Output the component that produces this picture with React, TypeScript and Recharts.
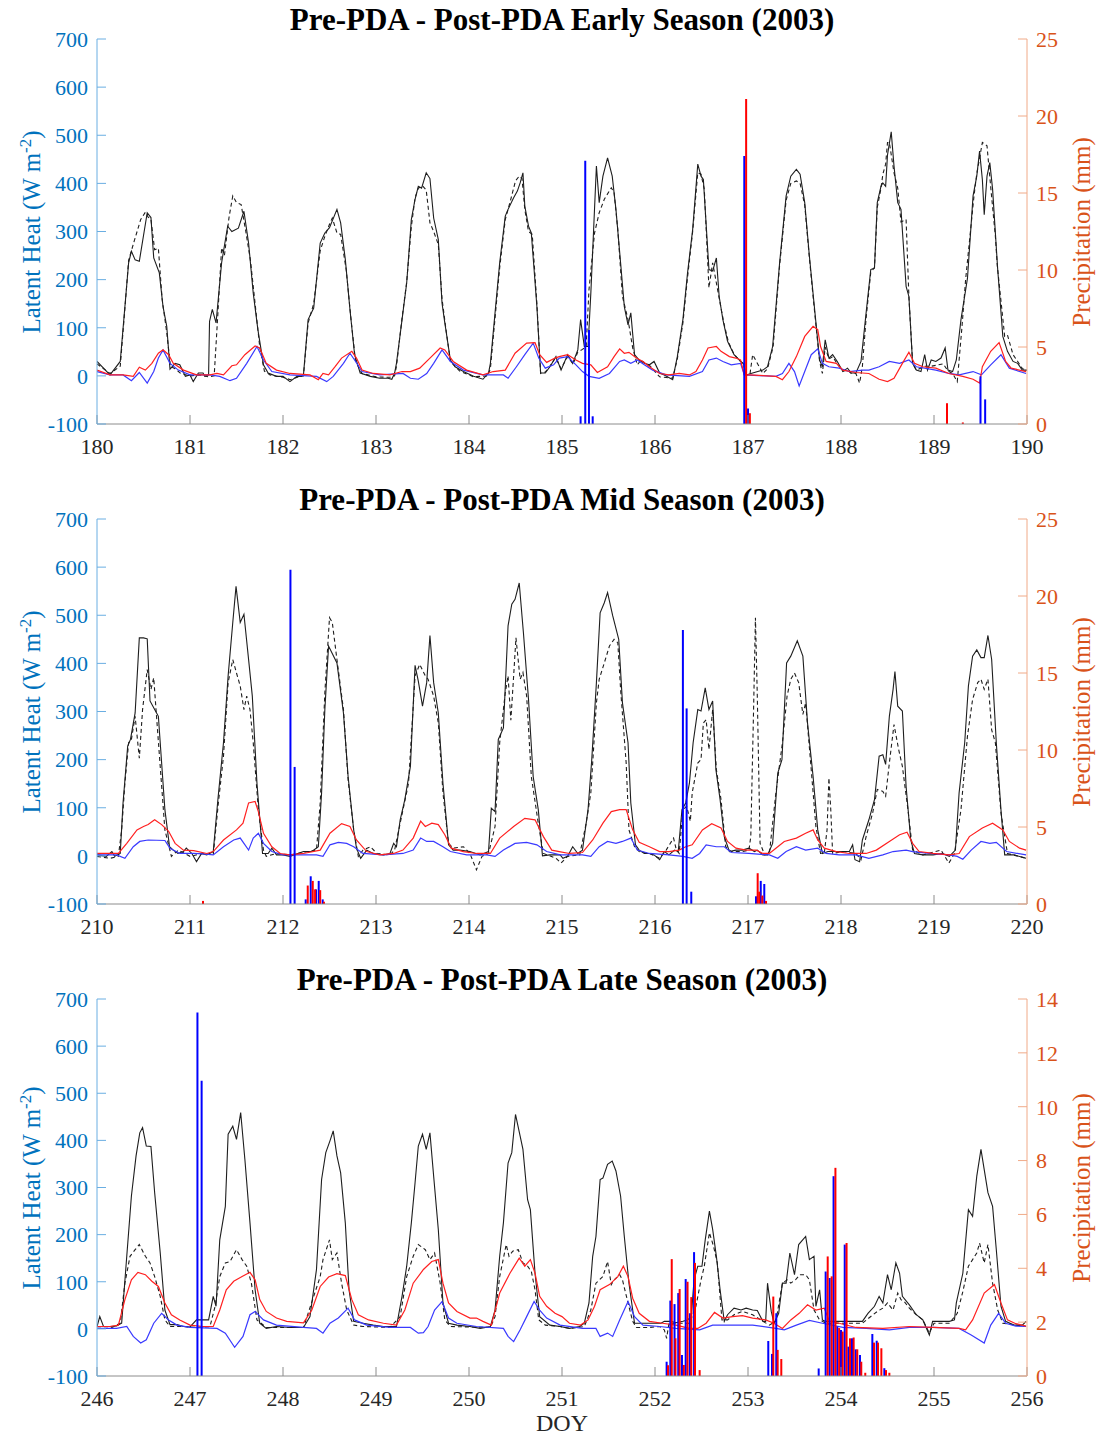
import React from 'react';
import { ComposedChart, Line, XAxis, YAxis, ReferenceLine } from 'recharts';

type Pt = [number, number];

const FONT = '"Liberation Serif", "Times New Roman", serif';

// axis ticks
const lhTicks = [-100, 0, 100, 200, 300, 400, 500, 600, 700];
const earlyDays = [180, 181, 182, 183, 184, 185, 186, 187, 188, 189, 190];
const midDays = [210, 211, 212, 213, 214, 215, 216, 217, 218, 219, 220];
const lateDays = [246, 247, 248, 249, 250, 251, 252, 253, 254, 255, 256];
const rainTicks25 = [0, 5, 10, 15, 20, 25];
const rainTicks14 = [0, 2, 4, 6, 8, 10, 12, 14];

// ---------- Early season (DOY 180-190) ----------
const earlySolid: Pt[] = [
  [180.0, 30], [180.14, 2], [180.25, 30], [180.34, 235], [180.37, 259], [180.41, 241], [180.455, 238], [180.54, 339], [180.58, 329], [180.61, 245], [180.67, 214], [180.71, 144], [180.75, 103], [180.785, 14], [180.84, 26], [180.89, 23], [180.95, -1], [181.0, 2], [181.035, -12], [181.09, 6], [181.14, 6], [181.16, -1],
  [181.2, 2], [181.21, 113], [181.24, 138], [181.28, 110], [181.34, 235], [181.405, 311], [181.45, 300], [181.52, 307], [181.58, 342], [181.63, 276], [181.68, 172], [181.73, 96], [181.79, 23], [181.84, 6], [181.93, -1], [182.0, -1], [182.075, -12], [182.15, -1], [182.2, -1],
  [182.22, 2], [182.27, 117], [182.33, 141], [182.4, 276], [182.45, 297], [182.5, 308], [182.58, 346], [182.62, 318], [182.67, 242], [182.72, 138], [182.77, 44], [182.83, 6], [182.94, -1], [183.04, -5], [183.13, -5], [183.17, -7], [183.2, 6],
  [183.22, 26], [183.28, 117], [183.33, 193], [183.38, 325], [183.42, 367], [183.455, 394], [183.49, 390], [183.54, 422], [183.58, 410], [183.62, 328], [183.67, 283], [183.71, 151], [183.74, 110], [183.8, 33], [183.85, 19], [183.94, 9], [184.05, -1], [184.15, -7], [184.21, 6],
  [184.23, 26], [184.28, 131], [184.33, 235], [184.39, 332], [184.42, 346], [184.48, 370], [184.52, 384], [184.55, 401], [184.58, 422], [184.6, 353], [184.64, 311], [184.67, 297], [184.73, 144], [184.77, 6], [184.82, 6], [184.87, 19], [184.935, 40], [184.99, 12],
  [185.06, 44], [185.115, 26], [185.17, 54], [185.2, 117], [185.24, 61], [185.28, 61], [185.31, 172], [185.37, 436], [185.4, 360], [185.44, 415], [185.49, 453], [185.54, 415], [185.58, 346], [185.63, 235], [185.67, 144], [185.71, 106], [185.74, 131], [185.78, 44], [185.83, 33], [185.885, 26], [185.94, 23], [185.99, 30],
  [186.05, 6], [186.1, 2], [186.19, -8], [186.24, 40], [186.3, 117], [186.35, 214], [186.405, 304], [186.46, 440], [186.495, 415], [186.52, 408], [186.58, 221], [186.62, 218], [186.66, 245], [186.69, 165], [186.73, 117], [186.78, 72], [186.85, 44], [186.92, 30], [186.95, 26], [186.98, 2],
  [187.05, 6], [187.16, 12], [187.21, 19], [187.265, 61], [187.34, 235], [187.41, 374], [187.46, 415], [187.52, 429], [187.56, 419], [187.61, 360], [187.66, 249], [187.71, 151], [187.77, 33], [187.8, 19], [187.83, 75], [187.87, 37], [187.91, 44], [187.96, 30],
  [188.02, 9], [188.07, 16], [188.11, 6], [188.16, 6], [188.215, 30], [188.27, 131], [188.32, 221], [188.36, 224], [188.39, 360], [188.43, 394], [188.45, 401], [188.48, 394], [188.5, 459], [188.54, 507], [188.57, 436], [188.61, 360], [188.645, 346], [188.7, 186], [188.73, 165], [188.77, 26], [188.81, 12], [188.86, 9], [188.9, 44], [188.93, 12], [188.97, 33],
  [189.02, 30], [189.075, 37], [189.12, 58], [189.15, 12], [189.2, 9], [189.24, 33], [189.29, 117], [189.36, 203], [189.42, 374], [189.46, 415], [189.49, 467], [189.52, 408], [189.54, 335], [189.57, 415], [189.6, 443], [189.63, 388], [189.685, 221], [189.74, 82], [189.79, 51], [189.85, 30], [189.9, 26], [189.95, 12], [190.0, 12],
];
const earlyDashed: Pt[] = [
  [180.0, 25], [180.14, 5], [180.25, 20], [180.3, 140], [180.34, 240], [180.4, 280], [180.47, 325], [180.52, 340], [180.55, 330], [180.58, 325], [180.62, 262], [180.66, 265], [180.7, 160], [180.75, 90], [180.79, 20], [180.84, 15], [180.9, 5], [181.0, 0], [181.1, 2], [181.16, 0],
  [181.2, -2], [181.26, 0], [181.3, 130], [181.34, 266], [181.37, 250], [181.42, 330], [181.46, 374], [181.5, 360], [181.55, 356], [181.6, 300], [181.65, 240], [181.7, 150], [181.75, 60], [181.8, 10], [181.86, 2], [182.0, -3], [182.08, -8], [182.2, 0],
  [182.22, 0], [182.27, 110], [182.33, 150], [182.4, 260], [182.45, 290], [182.5, 315], [182.53, 328], [182.58, 297], [182.62, 294], [182.68, 220], [182.73, 120], [182.78, 30], [182.85, 5], [183.0, -2], [183.15, -3], [183.2, 0],
  [183.22, 20], [183.28, 120], [183.33, 195], [183.38, 310], [183.42, 370], [183.455, 390], [183.5, 395], [183.54, 386], [183.58, 318], [183.62, 300], [183.67, 273], [183.71, 160], [183.75, 100], [183.8, 30], [183.9, 10], [184.05, -2], [184.2, 0],
  [184.23, 15], [184.28, 120], [184.33, 225], [184.39, 325], [184.44, 360], [184.5, 405], [184.54, 415], [184.57, 410], [184.6, 346], [184.64, 300], [184.68, 294], [184.73, 150], [184.77, 5], [184.82, 8], [184.87, 20],
  [184.93, 38], [184.99, 15], [185.06, 40], [185.12, 25], [185.17, 50], [185.22, 55], [185.26, 61], [185.29, 179], [185.35, 297], [185.4, 339], [185.455, 367], [185.53, 391], [185.56, 381], [185.6, 304], [185.65, 165], [185.71, 117], [185.76, 58], [185.81, 23], [185.85, 33], [185.9, 25], [185.95, 20],
  [186.05, -2], [186.1, -3], [186.19, -5], [186.24, 35], [186.3, 110], [186.35, 205], [186.405, 300], [186.46, 422], [186.495, 419], [186.53, 388], [186.58, 183], [186.62, 235], [186.66, 193], [186.7, 151], [186.74, 110], [186.79, 70], [186.85, 45], [186.92, 30], [186.95, 25], [186.98, 2],
  [187.02, 2], [187.05, 44], [187.16, 5], [187.21, 15], [187.27, 60], [187.34, 230], [187.41, 365], [187.46, 400], [187.52, 405], [187.56, 400], [187.61, 355], [187.66, 245], [187.71, 145], [187.77, 30], [187.8, 5], [187.83, 60], [187.87, 35], [187.91, 40], [187.96, 25],
  [188.02, 10], [188.07, 12], [188.11, 5], [188.16, 5], [188.2, -15], [188.23, 20], [188.27, 120], [188.32, 215], [188.36, 225], [188.39, 350], [188.43, 390], [188.45, 419], [188.48, 440], [188.5, 485], [188.52, 485], [188.57, 422], [188.61, 390], [188.645, 320], [188.7, 325], [188.73, 165], [188.77, 26], [188.81, 12], [188.9, 20], [188.97, 20],
  [189.1, 25], [189.15, 10], [189.2, 5], [189.25, -12], [189.3, 100], [189.34, 200], [189.43, 374], [189.46, 420], [189.52, 485], [189.57, 478], [189.61, 392], [189.66, 290], [189.68, 230], [189.76, 82], [189.79, 85], [189.85, 44], [189.9, 30], [189.95, 15], [190.0, 12],
];
const earlyRed: Pt[] = [
  [180.0, 12], [180.14, 2], [180.28, 2], [180.39, -1], [180.455, 18], [180.52, 12], [180.59, 26], [180.66, 47], [180.71, 54], [180.77, 44], [180.82, 26], [180.93, 12],
  [181.07, 2], [181.215, 2], [181.29, 5], [181.36, 2], [181.45, 21], [181.5, 23], [181.59, 44], [181.7, 62], [181.75, 58], [181.82, 26], [181.93, 12],
  [182.075, 5], [182.29, 2], [182.38, -8], [182.43, 5], [182.49, 2], [182.56, 19], [182.63, 37], [182.74, 51], [182.79, 37], [182.85, 12], [182.97, 5],
  [183.15, 2], [183.28, 9], [183.37, 9], [183.47, 16], [183.58, 37], [183.69, 58], [183.74, 54], [183.83, 30], [183.975, 12],
  [184.15, 2], [184.26, 9], [184.39, 12], [184.495, 47], [184.62, 68], [184.71, 69], [184.76, 44], [184.835, 28], [184.925, 37], [184.97, 40],
  [185.06, 44], [185.15, 33], [185.22, 26], [185.31, 23], [185.38, 7], [185.49, 19], [185.56, 40], [185.62, 56], [185.67, 47], [185.72, 49], [185.8, 37], [185.87, 30], [185.94, 19],
  [186.05, 5], [186.15, 2], [186.26, 5], [186.37, 2], [186.44, 9], [186.51, 33], [186.57, 58], [186.66, 61], [186.71, 51], [186.8, 40], [186.87, 37], [186.92, 33], [186.96, 2],
  [187.01, 2], [187.3, -1], [187.37, -8], [187.44, 9], [187.52, 40], [187.61, 82], [187.7, 103], [187.75, 96], [187.78, 61], [187.84, 30], [187.95, 26],
  [188.02, 12], [188.16, 7], [188.3, 5], [188.41, -7], [188.5, -12], [188.57, -5], [188.66, 26], [188.73, 49], [188.79, 26], [188.88, 19],
  [189.02, 16], [189.16, 5], [189.31, -1], [189.42, -7], [189.49, -15], [189.52, 19], [189.61, 51], [189.7, 69], [189.77, 30], [189.83, 16], [189.99, 9],
];
const earlyBlue: Pt[] = [
  [180.0, 9], [180.14, 2], [180.28, 2], [180.37, -10], [180.455, 7], [180.54, -15], [180.61, 9], [180.66, 37], [180.71, 54], [180.785, 26], [180.875, 12],
  [181.0, 2], [181.215, 2], [181.32, -1], [181.43, -10], [181.5, -5], [181.61, 26], [181.72, 61], [181.79, 33], [181.88, 9],
  [182.075, 2], [182.36, -1], [182.47, -12], [182.54, -1], [182.65, 26], [182.72, 47], [182.77, 33], [182.85, 9],
  [183.04, 2], [183.29, 5], [183.37, -5], [183.455, -7], [183.545, 5], [183.62, 26], [183.71, 54], [183.8, 30], [183.94, 12],
  [184.15, 2], [184.37, 2], [184.42, -5], [184.51, 19], [184.6, 44], [184.69, 68], [184.75, 37], [184.82, 16], [184.91, 23], [184.97, 37],
  [185.06, 40], [185.15, 23], [185.22, 9], [185.29, -1], [185.4, -5], [185.51, 5], [185.62, 30], [185.67, 33], [185.74, 26], [185.81, 33], [185.885, 23], [185.975, 12],
  [186.12, 2], [186.37, -1], [186.51, 9], [186.58, 33], [186.66, 37], [186.73, 30], [186.82, 23], [186.92, 26], [186.96, 2],
  [187.3, -1], [187.37, 5], [187.44, 26], [187.5, 9], [187.55, -21], [187.61, 9], [187.68, 44], [187.75, 56], [187.8, 26], [187.87, 19], [187.98, 16],
  [188.09, 9], [188.23, 12], [188.3, 12], [188.41, 19], [188.52, 30], [188.63, 26], [188.73, 33], [188.81, 19],
  [189.02, 12], [189.16, 5], [189.27, 2], [189.42, 9], [189.51, 2], [189.61, 23], [189.72, 44], [189.81, 16], [189.99, 5],
];
const earlyRainBlue: Pt[] = [[185.2, 0.5], [185.25, 17.1], [185.29, 6.1], [185.33, 0.5], [186.96, 17.4], [187.0, 1.0], [189.5, 3.1], [189.55, 1.6]];
const earlyRainRed: Pt[] = [[186.98, 21.1], [187.02, 0.7], [189.14, 1.35], [189.31, 0.1]];

// ---------- Mid season (DOY 210-220) ----------
const midSolid: Pt[] = [
  [210.0, 2], [210.1, -1], [210.16, 9], [210.19, -1], [210.25, 5], [210.28, 110], [210.33, 228], [210.36, 242], [210.41, 297], [210.455, 453], [210.5, 453], [210.54, 451], [210.57, 322], [210.62, 304], [210.66, 290], [210.695, 193], [210.73, 96], [210.78, 19], [210.82, 12], [210.87, 5], [210.93, 9], [210.96, 16],
  [211.02, 5], [211.07, -12], [211.125, 5], [211.18, 2], [211.25, 9], [211.3, 117], [211.36, 235], [211.41, 374], [211.46, 485], [211.495, 560], [211.54, 485], [211.58, 502], [211.63, 408], [211.67, 332], [211.72, 151], [211.78, 5], [211.84, 5], [211.88, 16], [211.93, 2],
  [212.0, 2], [212.075, -1], [212.22, 9], [212.31, 9], [212.38, 19], [212.415, 131], [212.45, 304], [212.49, 436], [212.58, 401], [212.65, 297], [212.7, 165], [212.76, 54], [212.79, 16], [212.835, -5], [212.9, 12], [212.97, 5],
  [213.08, 2], [213.15, 5], [213.19, 26], [213.22, 19], [213.26, 75], [213.31, 117], [213.37, 186], [213.42, 396], [213.455, 363], [213.5, 311], [213.545, 360], [213.58, 458], [213.62, 360], [213.67, 297], [213.72, 151], [213.78, 23], [213.83, 12], [213.9, 12],
  [214.01, 9], [214.12, 2], [214.21, 9], [214.24, 99], [214.28, 92], [214.315, 242], [214.37, 266], [214.42, 478], [214.46, 523], [214.495, 533], [214.54, 567], [214.585, 464], [214.64, 325], [214.69, 165], [214.745, 96], [214.79, 0], [214.87, 2], [214.98, 2],
  [215.01, -5], [215.06, -1], [215.115, 19], [215.17, 5], [215.22, 12], [215.28, 96], [215.32, 200], [215.37, 360], [215.41, 505], [215.455, 526], [215.49, 547], [215.545, 499], [215.61, 450], [215.65, 318], [215.71, 235], [215.74, 110], [215.79, 23], [215.83, 12], [215.885, 5], [215.94, 5], [215.99, 2],
  [216.05, -8], [216.1, 9], [216.15, 2], [216.21, 12], [216.25, 9], [216.29, 96], [216.33, 110], [216.37, 151], [216.41, 235], [216.46, 304], [216.495, 301], [216.54, 349], [216.58, 304], [216.62, 322], [216.655, 179], [216.7, 117], [216.745, 40], [216.8, 9], [216.87, 12], [216.94, 12],
  [217.01, 16], [217.07, 9], [217.1, 12], [217.16, 2], [217.21, 2], [217.265, 26], [217.32, 172], [217.365, 200], [217.415, 401], [217.46, 415], [217.53, 447], [217.59, 415], [217.64, 276], [217.7, 165], [217.75, 54], [217.8, 5], [217.86, 9], [217.95, 9],
  [218.02, 9], [218.09, 9], [218.125, 23], [218.15, -8], [218.2, -12], [218.23, 33], [218.3, 75], [218.36, 117], [218.41, 207], [218.45, 210], [218.48, 190], [218.52, 290], [218.56, 346], [218.58, 383], [218.61, 311], [218.66, 301], [218.7, 144], [218.75, 33], [218.79, 5], [218.88, 2], [218.99, 2],
  [219.09, 5], [219.165, -1], [219.23, 12], [219.27, 131], [219.33, 235], [219.37, 353], [219.415, 415], [219.46, 428], [219.505, 412], [219.54, 412], [219.58, 458], [219.62, 408], [219.67, 235], [219.72, 96], [219.76, 2], [219.86, 2], [219.99, -5],
];
const midDashed: Pt[] = [
  [210.0, -1], [210.14, -5], [210.23, -1], [210.265, 54], [210.3, 151], [210.34, 235], [210.37, 242], [210.41, 290], [210.455, 203], [210.49, 304], [210.54, 387], [210.58, 346], [210.61, 370], [210.64, 290], [210.685, 172], [210.73, 54], [210.8, -1], [210.875, 12],
  [211.0, -1], [211.14, 5], [211.25, 2], [211.305, 110], [211.36, 207], [211.41, 360], [211.46, 408], [211.5, 380], [211.54, 353], [211.58, 304], [211.61, 332], [211.645, 304], [211.68, 235], [211.735, 96], [211.79, 12], [211.82, -1], [211.93, 5],
  [212.075, 2], [212.36, 12], [212.4, 110], [212.45, 339], [212.5, 495], [212.53, 485], [212.58, 408], [212.65, 304], [212.7, 158], [212.76, 54], [212.81, -1], [212.86, 12], [212.94, 19],
  [213.01, 5], [213.15, 2], [213.2, 12], [213.26, 68], [213.35, 151], [213.42, 374], [213.47, 398], [213.53, 374], [213.56, 367], [213.62, 332], [213.67, 276], [213.72, 131], [213.78, 26], [213.83, 16], [213.94, 19],
  [214.01, 5], [214.08, -29], [214.14, -1], [214.21, 5], [214.28, 61], [214.33, 235], [214.39, 339], [214.42, 374], [214.45, 282], [214.48, 374], [214.505, 453], [214.55, 367], [214.58, 381], [214.62, 332], [214.67, 165], [214.75, 61], [214.8, 5], [214.935, -5], [214.99, -15],
  [215.06, -1], [215.19, 2], [215.26, 68], [215.31, 131], [215.37, 318], [215.4, 367], [215.455, 401], [215.51, 436], [215.56, 450], [215.6, 443], [215.63, 346], [215.69, 193], [215.72, 54], [215.78, 19], [215.83, 9], [215.94, 5],
  [216.05, -5], [216.12, 12], [216.2, 37], [216.23, 12], [216.26, 5], [216.3, 96], [216.34, 103], [216.38, 72], [216.4, 131], [216.46, 193], [216.495, 200], [216.52, 276], [216.55, 283], [216.58, 221], [216.62, 304], [216.66, 179], [216.71, 117], [216.76, 19], [216.82, 9], [216.94, 9],
  [217.01, 12], [217.03, 40], [217.06, 304], [217.08, 495], [217.1, 332], [217.13, 26], [217.18, 2], [217.23, 5], [217.3, 131], [217.37, 235], [217.42, 332], [217.46, 367], [217.5, 380], [217.545, 360], [217.59, 294], [217.62, 318], [217.68, 179], [217.73, 61], [217.78, 5], [217.82, 5], [217.85, 54], [217.87, 162], [217.89, 96], [217.91, 5],
  [218.02, 9], [218.16, 5], [218.215, -8], [218.27, 40], [218.34, 89], [218.39, 138], [218.45, 134], [218.48, 124], [218.52, 193], [218.57, 273], [218.62, 221], [218.66, 186], [218.72, 96], [218.77, 12], [218.88, 2],
  [219.075, 12], [219.16, -15], [219.22, 5], [219.29, 96], [219.36, 249], [219.415, 325], [219.47, 360], [219.505, 367], [219.54, 346], [219.58, 367], [219.62, 262], [219.66, 235], [219.72, 89], [219.79, 5], [219.99, -5],
];
const midRed: Pt[] = [
  [210.0, 5], [210.23, 5], [210.32, 26], [210.43, 54], [210.5, 61], [210.55, 65], [210.62, 75], [210.695, 65], [210.77, 51], [210.84, 26], [210.93, 12],
  [211.04, 11], [211.18, 5], [211.25, 9], [211.36, 33], [211.5, 54], [211.57, 68], [211.63, 110], [211.7, 113], [211.735, 92], [211.79, 47], [211.88, 19], [211.97, 5],
  [212.075, 2], [212.22, 5], [212.4, 12], [212.505, 47], [212.63, 67], [212.72, 61], [212.79, 33], [212.9, 9],
  [213.04, 2], [213.19, 5], [213.29, 12], [213.4, 37], [213.48, 72], [213.53, 61], [213.6, 68], [213.67, 65], [213.74, 44], [213.81, 16], [213.94, 9],
  [214.08, 5], [214.23, 5], [214.33, 37], [214.48, 61], [214.6, 78], [214.71, 75], [214.8, 40], [214.89, 12], [214.97, 9],
  [215.08, 5], [215.22, 7], [215.33, 33], [215.44, 68], [215.53, 92], [215.62, 96], [215.69, 96], [215.76, 54], [215.83, 28], [215.94, 19],
  [216.05, 9], [216.15, 9], [216.26, 12], [216.33, 19], [216.4, 23], [216.51, 54], [216.61, 67], [216.71, 58], [216.78, 30], [216.87, 16], [216.98, 12],
  [217.09, 12], [217.16, 5], [217.23, 5], [217.3, 16], [217.39, 30], [217.52, 37], [217.62, 47], [217.7, 54], [217.75, 33], [217.82, 16], [217.95, 9],
  [218.09, 5], [218.27, 5], [218.38, 12], [218.52, 30], [218.63, 44], [218.71, 49], [218.77, 26], [218.84, 9], [218.99, 5],
  [219.165, 2], [219.27, 5], [219.38, 40], [219.52, 58], [219.63, 68], [219.74, 54], [219.81, 30], [219.92, 16], [219.99, 12],
];
const midBlue: Pt[] = [
  [210.0, 2], [210.21, 2], [210.3, -5], [210.39, 19], [210.46, 30], [210.55, 33], [210.73, 32], [210.785, 16], [210.89, 5],
  [211.04, 5], [211.14, 4], [211.25, 2], [211.36, 19], [211.47, 33], [211.54, 37], [211.63, 12], [211.68, 37], [211.735, 47], [211.79, 26], [211.88, 9],
  [212.0, 2], [212.36, 2], [212.43, -1], [212.505, 23], [212.595, 28], [212.685, 26], [212.76, 19], [212.86, 5],
  [213.08, 2], [213.29, 5], [213.4, 12], [213.48, 37], [213.545, 30], [213.62, 30], [213.72, 19], [213.8, 9], [213.975, 2],
  [214.19, 2], [214.28, -1], [214.37, 12], [214.495, 26], [214.62, 28], [214.73, 23], [214.835, 9], [214.98, 2],
  [215.22, 2], [215.31, -1], [215.4, 19], [215.49, 30], [215.58, 26], [215.65, 30], [215.74, 37], [215.81, 12], [215.94, 5],
  [216.15, 2], [216.3, -1], [216.4, -5], [216.48, 5], [216.55, 23], [216.66, 19], [216.745, 19], [216.82, 7],
  [217.01, 5], [217.23, 2], [217.32, -5], [217.41, 9], [217.52, 19], [217.62, 12], [217.75, 16], [217.84, 5], [217.98, 2],
  [218.16, 2], [218.3, -5], [218.45, 2], [218.56, 9], [218.7, 12], [218.77, 9], [218.95, 5],
  [219.165, 2], [219.25, -1], [219.31, -7], [219.4, 12], [219.505, 30], [219.6, 26], [219.67, 28], [219.78, 9], [219.99, 2],
];
const midRainBlue: Pt[] = [[212.08, 21.7], [212.125, 8.9], [212.244, 0.3], [212.298, 1.8], [212.355, 0.95], [212.384, 1.5], [212.427, 0.3], [216.3, 17.8], [216.34, 12.7], [216.39, 0.8], [217.086, 0.5], [217.137, 1.5], [217.175, 1.3]];
const midRainRed: Pt[] = [[211.14, 0.2], [212.266, 1.2], [212.32, 1.5], [212.345, 0.95], [212.4, 0.9], [212.44, 0.15], [217.104, 2.0], [217.121, 0.8], [217.154, 0.55], [217.194, 0.2]];

// ---------- Late season (DOY 246-256) ----------
const lateSolid: Pt[] = [
  [246.0, 5], [246.03, 26], [246.07, 5], [246.14, 5], [246.21, 6], [246.265, 12], [246.32, 154], [246.37, 282], [246.42, 367], [246.46, 416], [246.49, 427], [246.53, 388], [246.58, 387], [246.62, 289], [246.68, 161], [246.73, 40], [246.785, 9], [246.86, 9], [246.93, 5],
  [247.0, 4], [247.07, 19], [247.2, 19], [247.25, 69], [247.28, 48], [247.32, 189], [247.38, 260], [247.41, 413], [247.46, 430], [247.5, 402], [247.545, 459], [247.59, 360], [247.645, 225], [247.7, 83], [247.75, 12], [247.82, 1], [247.93, 5],
  [248.075, 3], [248.22, 3], [248.29, 26], [248.36, 126], [248.415, 317], [248.46, 374], [248.505, 399], [248.54, 420], [248.58, 367], [248.62, 331], [248.67, 225], [248.71, 83], [248.76, 16], [248.86, 12], [248.97, 8],
  [249.08, 5], [249.22, 5], [249.28, 69], [249.33, 133], [249.38, 225], [249.42, 310], [249.455, 388], [249.5, 413], [249.54, 381], [249.58, 416], [249.62, 324], [249.67, 211], [249.72, 55], [249.78, 12], [249.87, 8],
  [250.01, 5], [250.12, 1], [250.23, 5], [250.28, 40], [250.33, 154], [250.37, 225], [250.42, 352], [250.46, 374], [250.5, 455], [250.55, 409], [250.58, 381], [250.63, 274], [250.66, 253], [250.71, 118], [250.76, 26], [250.87, 8], [250.98, 5],
  [251.08, 1], [251.19, 5], [251.24, 12], [251.29, 55], [251.33, 154], [251.365, 196], [251.41, 317], [251.44, 320], [251.49, 349], [251.54, 356], [251.58, 335], [251.63, 282], [251.67, 196], [251.72, 97], [251.78, 12], [251.87, 12], [251.975, 12],
  [252.065, 12], [252.1, 16], [252.17, 16], [252.225, 13], [252.3, 16], [252.35, 19], [252.39, 26], [252.42, 104], [252.46, 133], [252.505, 133], [252.54, 189], [252.585, 250], [252.62, 211], [252.66, 154], [252.7, 83], [252.745, 16], [252.78, 30], [252.85, 44], [252.925, 40], [252.98, 44],
  [253.05, 40], [253.1, 39], [253.16, 16], [253.19, 16], [253.21, 97], [253.25, 37], [253.28, 12], [253.33, 33], [253.37, 97], [253.41, 97], [253.45, 161], [253.5, 115], [253.545, 179], [253.62, 196], [253.66, 147], [253.71, 154], [253.73, 48], [253.77, 83], [253.8, 19], [253.83, 16], [253.875, 16], [253.98, 16],
  [254.09, 16], [254.23, 16], [254.29, 33], [254.36, 48], [254.41, 69], [254.45, 55], [254.5, 115], [254.54, 83], [254.59, 140], [254.63, 118], [254.66, 69], [254.735, 51], [254.81, 30], [254.88, 19], [254.95, -13], [254.985, 16],
  [255.075, 16], [255.165, 16], [255.22, 19], [255.24, 55], [255.31, 118], [255.37, 253], [255.415, 239], [255.46, 324], [255.505, 381], [255.54, 338], [255.58, 289], [255.63, 260], [255.67, 168], [255.72, 48], [255.77, 16], [255.86, 8], [255.95, 8], [255.99, 16],
];
const lateDashed: Pt[] = [
  [246.0, 1], [246.14, 1], [246.25, 12], [246.3, 97], [246.355, 154], [246.41, 168], [246.455, 179], [246.52, 154], [246.57, 140], [246.62, 111], [246.68, 69], [246.73, 19], [246.785, 5], [246.93, 5],
  [247.07, 3], [247.215, 5], [247.27, 48], [247.32, 111], [247.38, 140], [247.43, 143], [247.5, 168], [247.56, 147], [247.61, 133], [247.66, 97], [247.72, 19], [247.82, 3],
  [248.22, 3], [248.33, 69], [248.4, 111], [248.43, 147], [248.5, 189], [248.53, 147], [248.58, 161], [248.63, 97], [248.685, 40], [248.76, 8], [248.86, 5],
  [249.15, 3], [249.26, 26], [249.33, 111], [249.4, 154], [249.455, 179], [249.53, 168], [249.58, 147], [249.63, 161], [249.69, 97], [249.74, 19], [249.8, 5],
  [250.23, 3], [250.28, 26], [250.33, 111], [250.4, 179], [250.43, 154], [250.47, 165], [250.53, 168], [250.58, 140], [250.63, 133], [250.67, 122], [250.71, 83], [250.75, 19], [250.82, 8], [250.98, 5],
  [251.08, 1], [251.24, 5], [251.31, 40], [251.365, 97], [251.44, 111], [251.49, 143], [251.53, 94], [251.56, 104], [251.62, 115], [251.65, 104], [251.71, 55], [251.76, 16], [251.8, 3], [251.94, 3],
  [252.05, 5], [252.1, -2], [252.125, -20], [252.15, 12], [252.225, 12], [252.37, 12], [252.44, 48], [252.495, 104], [252.53, 133], [252.585, 204], [252.63, 175], [252.67, 140], [252.72, 19], [252.78, 19], [252.85, 30], [252.94, 37],
  [253.05, 30], [253.16, 16], [253.23, 8], [253.3, 16], [253.37, 97], [253.42, 104], [253.46, 97], [253.51, 104], [253.56, 115], [253.62, 115], [253.66, 104], [253.71, 40], [253.77, 19], [253.84, 12],
  [254.23, 12], [254.3, 23], [254.39, 37], [254.45, 44], [254.5, 55], [254.56, 40], [254.61, 76], [254.645, 62], [254.68, 58], [254.735, 44], [254.81, 30], [254.88, 19], [254.95, -9],
  [255.0, 12], [255.165, 12], [255.25, 33], [255.31, 79], [255.37, 133], [255.415, 147], [255.46, 161], [255.49, 182], [255.54, 140], [255.58, 179], [255.63, 97], [255.685, 40], [255.74, 12], [255.99, 5],
];
const lateRed: Pt[] = [
  [246.0, 5], [246.14, 5], [246.23, 8], [246.3, 62], [246.37, 104], [246.44, 120], [246.52, 115], [246.59, 101], [246.66, 90], [246.73, 55], [246.8, 30], [246.89, 19],
  [247.0, 8], [247.14, 5], [247.25, 5], [247.32, 40], [247.39, 83], [247.47, 101], [247.56, 111], [247.645, 120], [247.7, 104], [247.75, 62], [247.82, 37], [247.93, 23],
  [248.04, 16], [248.22, 13], [248.31, 40], [248.4, 90], [248.49, 110], [248.58, 117], [248.67, 113], [248.74, 62], [248.81, 30], [248.92, 19],
  [249.08, 12], [249.22, 8], [249.31, 40], [249.4, 97], [249.51, 126], [249.6, 143], [249.67, 147], [249.72, 97], [249.78, 55], [249.87, 37],
  [250.01, 23], [250.08, 23], [250.15, 16], [250.24, 8], [250.33, 76], [250.44, 118], [250.54, 150], [250.6, 133], [250.66, 147], [250.71, 118], [250.76, 69], [250.835, 48], [250.925, 33],
  [251.0, 26], [251.08, 12], [251.2, 8], [251.28, 19], [251.35, 48], [251.41, 83], [251.51, 94], [251.6, 111], [251.66, 133], [251.71, 111], [251.76, 65], [251.83, 33], [251.94, 16],
  [252.08, 12], [252.225, 8], [252.37, 1], [252.46, 1], [252.55, 12], [252.64, 35], [252.73, 23], [252.835, 26], [252.94, 28],
  [253.05, 23], [253.19, 19], [253.28, 12], [253.37, 1], [253.46, 19], [253.55, 33], [253.64, 51], [253.73, 40], [253.82, 44], [253.875, 16], [253.98, 12],
  [254.16, 3], [254.45, 1], [254.735, 5], [254.985, 3],
  [255.27, 1], [255.34, -2], [255.415, 19], [255.54, 76], [255.65, 94], [255.72, 55], [255.79, 19], [255.88, 11], [255.99, 6],
];
const lateBlue: Pt[] = [
  [246.0, 1], [246.21, 1], [246.32, 5], [246.39, -16], [246.47, -30], [246.53, -23], [246.61, 12], [246.695, 33], [246.77, 19], [246.86, 8],
  [247.0, 3], [247.29, 1], [247.38, -9], [247.48, -39], [247.57, -16], [247.645, 30], [247.7, 37], [247.79, 19], [247.93, 8],
  [248.22, 3], [248.36, 1], [248.43, -9], [248.505, 12], [248.595, 23], [248.7, 44], [248.77, 19], [248.9, 8],
  [249.15, 3], [249.37, 3], [249.455, -9], [249.51, -8], [249.56, 5], [249.63, 40], [249.71, 58], [249.78, 23], [249.87, 12],
  [250.08, 5], [250.37, 1], [250.42, -16], [250.48, -27], [250.55, -2], [250.62, 26], [250.7, 58], [250.76, 40], [250.835, 23], [250.98, 8],
  [251.22, 1], [251.365, 1], [251.41, -16], [251.49, -9], [251.545, -16], [251.62, 19], [251.71, 58], [251.78, 26], [251.87, 8],
  [252.05, 5], [252.225, 1], [252.48, -2], [252.62, 8], [252.8, 8],
  [253.05, 8], [253.3, 1], [253.39, -2], [253.52, 8], [253.66, 18], [253.8, 12],
  [254.02, 3], [254.27, 1], [254.52, -2], [254.735, 3], [254.985, 3],
  [255.27, 1], [255.4, -13], [255.54, -30], [255.61, 8], [255.695, 33], [255.77, 12], [255.88, 6], [255.99, 5],
];
const lateRainBlue: Pt[] = [
  [247.08, 13.5], [247.125, 10.96],
  [252.125, 0.53], [252.165, 2.8], [252.21, 2.67], [252.25, 3.08], [252.29, 0.78], [252.33, 3.6], [252.375, 2.33], [252.42, 4.6],
  [253.218, 1.3], [253.258, 0.82], [253.304, 2.33], [253.76, 0.28],
  [253.835, 3.88], [253.878, 3.64], [253.92, 7.42], [253.96, 1.84], [254.0, 1.71], [254.04, 4.88], [254.079, 1.09], [254.118, 1.4], [254.158, 0.99], [254.204, 0.78],
  [254.337, 1.56], [254.384, 1.31], [254.466, 0.29],
];
const lateRainRed: Pt[] = [
  [252.14, 0.4], [252.18, 4.34], [252.22, 1.4], [252.265, 3.23], [252.31, 0.41], [252.35, 3.5], [252.39, 2.93], [252.43, 4.2], [252.48, 0.22],
  [253.272, 2.95], [253.319, 0.97], [253.358, 0.63],
  [253.857, 4.44], [253.9, 3.7], [253.94, 7.73], [253.98, 1.78], [254.018, 1.65], [254.06, 4.94], [254.097, 1.4], [254.136, 1.43], [254.175, 0.99], [254.218, 0.53], [254.261, 0.12],
  [254.355, 1.24], [254.398, 1.24], [254.434, 1.03], [254.484, 0.22], [254.52, 0.12],
];

const rows = (pts: Pt[]) => pts.map(([d, v]) => ({ d, v }));

const LH_COLOR = '#0072BD';
const PR_COLOR = '#D95319';

interface PanelProps {
  top: number;
  plotHeight: number;
  title: string;
  days: number[];
  solid: Pt[];
  dashed: Pt[];
  red: Pt[];
  blue: Pt[];
  rainBlue: Pt[];
  rainRed: Pt[];
  rainTicks: number[];
}

const rotated: React.CSSProperties = {
  position: 'absolute',
  transform: 'translate(-50%, -50%) rotate(-90deg)',
  whiteSpace: 'nowrap',
  fontSize: 25,
  fontFamily: FONT,
  lineHeight: '28px',
};

function Panel({ top, plotHeight, title, days, solid, dashed, red, blue, rainBlue, rainRed, rainTicks }: PanelProps) {
  const mt = 39;
  const h = mt + plotHeight + 46;
  const domain: [number, number] = [days[0], days[days.length - 1]];
  const mid = mt + plotHeight / 2;
  const rainDomain: [number, number] = [0, rainTicks[rainTicks.length - 1]];
  return (
    <div style={{ position: 'absolute', left: 0, top, width: 1099, height: h }}>
      <ComposedChart width={1099} height={h} margin={{ top: mt, right: 0, bottom: 0, left: 0 }}>
        <XAxis
          xAxisId="b"
          type="number"
          dataKey="d"
          domain={domain}
          allowDataOverflow
          ticks={days}
          interval={0}
          height={46}
          tickSize={-9}
          tickMargin={23}
          axisLine={{ stroke: '#8c8c8c' }}
          tickLine={{ stroke: '#8c8c8c' }}
          tick={{ fill: '#262626', fontSize: 22, fontFamily: FONT }}
        />
        <XAxis
          xAxisId="t"
          orientation="top"
          type="number"
          dataKey="d"
          domain={domain}
          allowDataOverflow
          ticks={days}
          interval={0}
          height={0}
          tickSize={-9}
          tick={false}
          axisLine={{ stroke: '#8c8c8c' }}
          tickLine={{ stroke: '#8c8c8c' }}
        />
        <YAxis
          yAxisId="lh"
          type="number"
          domain={[-100, 700]}
          allowDataOverflow
          ticks={lhTicks}
          interval={0}
          width={97}
          tickSize={-9}
          tickMargin={18}
          axisLine={{ stroke: '#6aaee2' }}
          tickLine={{ stroke: '#6aaee2' }}
          tick={{ fill: LH_COLOR, fontSize: 22, fontFamily: FONT }}
        />
        <YAxis
          yAxisId="mm"
          orientation="right"
          type="number"
          domain={rainDomain}
          allowDataOverflow
          ticks={rainTicks}
          interval={0}
          width={72}
          tickSize={-9}
          tickMargin={18}
          axisLine={{ stroke: '#f0aa88' }}
          tickLine={{ stroke: '#f0aa88' }}
          tick={{ fill: PR_COLOR, fontSize: 22, fontFamily: FONT }}
        />
        <Line xAxisId="b" yAxisId="lh" data={rows(solid)} dataKey="v" type="linear" stroke="#1e1e1e" strokeWidth={1.1} dot={false} activeDot={false} isAnimationActive={false} />
        <Line xAxisId="b" yAxisId="lh" data={rows(dashed)} dataKey="v" type="linear" stroke="#1e1e1e" strokeWidth={1.1} strokeDasharray="4 3" dot={false} activeDot={false} isAnimationActive={false} />
        <Line xAxisId="b" yAxisId="lh" data={rows(blue)} dataKey="v" type="linear" stroke="#3a3aff" strokeWidth={1.2} dot={false} activeDot={false} isAnimationActive={false} />
        <Line xAxisId="b" yAxisId="lh" data={rows(red)} dataKey="v" type="linear" stroke="#ff2020" strokeWidth={1.2} dot={false} activeDot={false} isAnimationActive={false} />
        {/* precipitation series registered on the right axis (drawn as bars below) */}
        <Line xAxisId="b" yAxisId="mm" data={rows([...rainBlue, ...rainRed])} dataKey="v" type="linear" stroke="none" dot={false} activeDot={false} isAnimationActive={false} />
        {rainBlue.map(([d, v], i) => (
          <ReferenceLine key={`rb${i}`} xAxisId="b" yAxisId="mm" ifOverflow="visible" segment={[{ x: d, y: 0 }, { x: d, y: v }]} stroke="#0000ff" strokeWidth={2} />
        ))}
        {rainRed.map(([d, v], i) => (
          <ReferenceLine key={`rr${i}`} xAxisId="b" yAxisId="mm" ifOverflow="visible" segment={[{ x: d, y: 0 }, { x: d, y: v }]} stroke="#ff0000" strokeWidth={2} />
        ))}
      </ComposedChart>
      <div
        style={{
          position: 'absolute', left: 97, width: 930, top: 2, textAlign: 'center',
          fontWeight: 'bold', fontSize: 31, lineHeight: '36px', color: '#000', fontFamily: FONT,
        }}
      >
        {title}
      </div>
      <div style={{ ...rotated, left: 29, top: mid, color: LH_COLOR }}>
        Latent Heat (W m<sup style={{ fontSize: 17 }}>-2</sup>)
      </div>
      <div style={{ ...rotated, left: 1082, top: mid, color: PR_COLOR }}>Precipitation (mm)</div>
    </div>
  );
}

export default function App() {
  return (
    <div style={{ position: 'relative', width: 1099, height: 1435, background: '#fff', fontFamily: FONT }}>
      <style>{'body{margin:0;}'}</style>
      <Panel
        top={0}
        plotHeight={385}
        title="Pre-PDA - Post-PDA Early Season (2003)"
        days={earlyDays}
        solid={earlySolid}
        dashed={earlyDashed}
        red={earlyRed}
        blue={earlyBlue}
        rainBlue={earlyRainBlue}
        rainRed={earlyRainRed}
        rainTicks={rainTicks25}
      />
      <Panel
        top={480}
        plotHeight={385}
        title="Pre-PDA - Post-PDA Mid Season (2003)"
        days={midDays}
        solid={midSolid}
        dashed={midDashed}
        red={midRed}
        blue={midBlue}
        rainBlue={midRainBlue}
        rainRed={midRainRed}
        rainTicks={rainTicks25}
      />
      <Panel
        top={960}
        plotHeight={377}
        title="Pre-PDA - Post-PDA Late Season (2003)"
        days={lateDays}
        solid={lateSolid}
        dashed={lateDashed}
        red={lateRed}
        blue={lateBlue}
        rainBlue={lateRainBlue}
        rainRed={lateRainRed}
        rainTicks={rainTicks14}
      />
      <div
        style={{
          position: 'absolute', left: 97, width: 930, top: 1409, textAlign: 'center',
          fontSize: 24, lineHeight: '28px', color: '#262626', fontFamily: FONT,
        }}
      >
        DOY
      </div>
    </div>
  );
}
